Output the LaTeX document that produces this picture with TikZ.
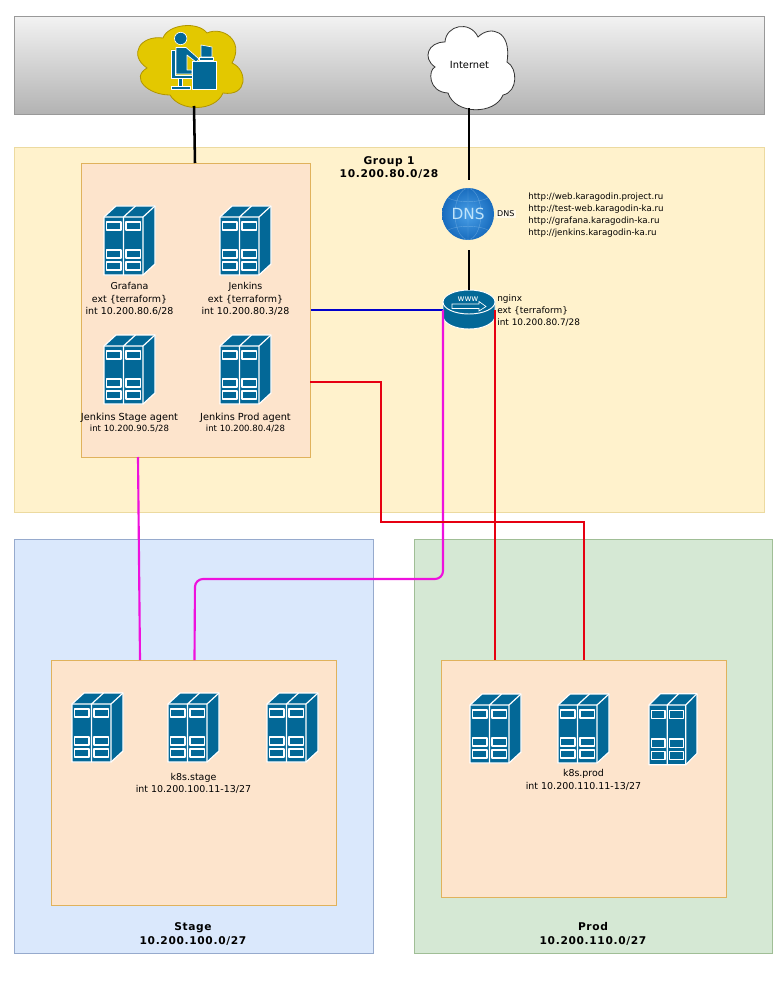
\documentclass[tikz,border=0pt]{standalone}
\usepackage{fontspec}
\setmainfont{DejaVu Sans}
\usepackage{xcolor}
\usetikzlibrary{positioning}

\definecolor{srvblue}{HTML}{036897}
\definecolor{linkmag}{HTML}{EE11DD}
\definecolor{linkred}{HTML}{E60012}
\definecolor{linkblue}{HTML}{0000CC}
\definecolor{grpfill}{HTML}{FFF2CC}
\definecolor{grpline}{HTML}{ECDAA0}
\definecolor{stagefill}{HTML}{DAE8FC}
\definecolor{stageline}{HTML}{96AACD}
\definecolor{prodfill}{HTML}{D5E8D4}
\definecolor{prodline}{HTML}{A0BE96}
\definecolor{boxfill}{HTML}{FDE4CC}
\definecolor{boxline}{HTML}{E0B25C}
\definecolor{usrfill}{HTML}{E3C800}
\definecolor{usrline}{HTML}{B09500}
\definecolor{dnsin}{HTML}{4AA0E8}
\definecolor{dnsout}{HTML}{186CBE}
\definecolor{dnstext}{HTML}{BFE3FA}

\newcommand{\iptxt}{\fontsize{6.4}{7.8}\selectfont}

\tikzset{
	zone/.style={draw, anchor=north west, inner sep=0pt, line width=0.7pt},
	inner box/.style={zone, fill=boxfill, draw=boxline},
	lbl/.style={align=center, inner sep=0pt, font=\fontsize{7.1}{9.4}\selectfont},
	lbl tight/.style={lbl, font=\fontsize{7.3}{7.8}\selectfont},
	title/.style={align=center, inner sep=0pt, font=\fontsize{8}{10.4}\selectfont\bfseries\addfontfeature{LetterSpace=6}},
	link/.style={line width=1.6pt},
	wire/.style={line width=1.9pt, black},
	srv/.pic={
		\begin{scope}[draw=white, fill=srvblue, line width=0.9pt, line join=round]
			\filldraw (0,0) -- (12,-11) -- (51,-11) -- (51,47) -- (39,58) -- (0,58) -- cycle;
			\draw (0,0) -- (39,0) -- (51,-11) (39,0) -- (39,58) (19.5,0) -- (19.5,58) (19.5,0) -- (31.5,-11);
			\foreach \bx in {2.5,22} \foreach \by in {5,33,45}
				\draw (\bx,\by) rectangle ++(14.5,8);
		\end{scope}
		\coordinate (-lbl) at (25.5,58);
	},
}

\begin{document}
\begin{tikzpicture}[x=0.75pt, y=-0.75pt]
	\useasboundingbox (0,0) rectangle (780,984);

	% zone
	\node[zone, top color=white!95!black, bottom color=black!30, draw=black!40, minimum width=750*0.75pt, minimum height=98*0.75pt] (top) at (14,16) {};
	\node[zone, fill=grpfill, draw=grpline, minimum width=750*0.75pt, minimum height=365*0.75pt] (grp) at (14,147) {};
	\node[zone, fill=stagefill, draw=stageline, minimum width=359*0.75pt, minimum height=414*0.75pt] (stage) at (14,539) {};
	\node[zone, fill=prodfill, draw=prodline, minimum width=358*0.75pt, minimum height=414*0.75pt] (prod) at (414,539) {};
	\node[inner box, minimum width=229*0.75pt, minimum height=294*0.75pt] (mgmt) at (81,163) {};
	\node[inner box, minimum width=285*0.75pt, minimum height=245*0.75pt] (k8stage) at (51,660) {};
	\node[inner box, minimum width=285*0.75pt, minimum height=237*0.75pt] (k8prod) at (441,660) {};

	% titoli
	\node[title] (grptxt) at (389,167.5) {Group 1\\10.200.80.0/28};
	\node[title] (stagetxt) at (193,934) {Stage\\10.200.100.0/27};
	\node[title] (prodtxt) at (593,934) {Prod\\10.200.110.0/27};

	% nuvole
	\filldraw[draw=usrline, fill=usrfill, line width=0.6pt] (163,38) .. controls (168,24) and (198,21) .. (207,33)
		.. controls (222,26) and (245,40) .. (232,63)
		.. controls (248,70) and (248,97) .. (223,93)
		.. controls (215,112) and (180,112) .. (170,95)
		.. controls (148,95) and (130,78) .. (147,68)
		.. controls (128,55) and (140,35) .. (163,38) -- cycle;
	\filldraw[draw=black!80, fill=white, line width=0.6pt] (445,42) .. controls (446,25) and (470,20) .. (478,37)
		.. controls (490,25) and (512,30) .. (507,62)
		.. controls (518,68) and (518,92) .. (503,95)
		.. controls (495,115) and (455,115) .. (448,93)
		.. controls (428,92) and (428,70) .. (435,67)
		.. controls (422,58) and (428,42) .. (445,42) -- cycle;
	\node[inner sep=0pt, minimum width=108*0.75pt, minimum height=82*0.75pt] (usr) at (191,66) {};
	\node[inner sep=0pt, font=\fontsize{7.4}{8}\selectfont] (net) at (469.5,65) {Internet};
	\coordinate (usrbot) at (194,106);
	\coordinate (netbot) at (469,108);

	% operatore
	\begin{scope}[draw=white, fill=srvblue, line width=0.5pt, line join=round]
		\filldraw (180.7,38.5) circle (6.2);
		\filldraw (176,47.5) -- (186,47.5) -- (199,59) -- (196,62) -- (187,55) -- (187,70) -- (192,70) -- (192,74) -- (176,74) -- cycle;
		\filldraw (171,50) -- (175,50) -- (175,75) -- (192,75) -- (192,78) -- (171,78) -- cycle;
		\filldraw (178.5,78) rectangle (182,86);
		\filldraw (171,86) rectangle (190,89);
		\filldraw (192,61) rectangle (216,89);
		\filldraw (201,45) -- (212,47) -- (212,57) -- (201,57) -- cycle;
		\filldraw (199,57.5) rectangle (213,60.5);
	\end{scope}

	% dns
	\node[circle, inner color=dnsin, outer color=dnsout, inner sep=0pt, minimum size=52*0.75pt] (dns) at (468,214) {};
	\draw[dnstext, opacity=0.35, line width=0.3pt] (468,214) ellipse (13 and 25.5) (468,188.5) -- (468,239.5)
		(448,198) .. controls (458,203) and (478,203) .. (488,198)
		(448,230) .. controls (458,225) and (478,225) .. (488,230);
	\node[text=dnstext, inner sep=0pt, font=\fontsize{11.5}{12}\selectfont] (dnslogo) at (468,214) {DNS};
	\node[fill=white, fill opacity=0.6, text opacity=1, inner sep=1pt, font=\fontsize{6}{8}\selectfont, right=1pt of dns] (dnstxt) {DNS};
	\node[lbl, align=left, font=\fontsize{6.5}{9}\selectfont, anchor=west] (urls) at (528,215) {http://web.karagodin.project.ru\\http://test-web.karagodin-ka.ru\\http://grafana.karagodin-ka.ru\\http://jenkins.karagodin-ka.ru};

	% router
	\node[inner sep=0pt, minimum width=52*0.75pt, minimum height=40*0.75pt] (www) at (469,310) {};
	\begin{scope}[draw=white, fill=srvblue, line width=0.7pt]
		\filldraw (443,302) -- (443,316) arc[start angle=180, end angle=360, x radius=26, y radius=-13] -- (495,302) -- cycle;
		\filldraw (469,302) ellipse (26 and 12);
		\draw[line width=0.5pt, fill=none] (452,304) -- (479,304) -- (479,301.5) -- (486,306.5) -- (479,311) -- (479,308.5) -- (452,308.5) -- cycle;
	\end{scope}
	\node[text=white, inner sep=0pt, font=\fontsize{6.4}{8}\selectfont] (wwwtxt) at (468,299.5) {www};
	\node[lbl, align=left, font=\fontsize{6.7}{8.7}\selectfont, anchor=west] (nginxtxt) at (497,310.5) {nginx\\ext \{terraform\}\\int 10.200.80.7/28};

	% server
	\pic (graf) at (104,217) {srv};
	\pic (jenk) at (220,217) {srv};
	\pic (jstage) at (104,346) {srv};
	\pic (jprod) at (220,346) {srv};
	\pic (sta) at (72,704) {srv};
	\pic (stb) at (168,704) {srv};
	\pic (stc) at (267,704) {srv};
	\pic (pra) at (470,705) {srv};
	\pic (prb) at (558,705) {srv};
	\pic[xscale=0.94, yscale=1.03] (prc) at (649,705) {srv};

	\node[lbl, below=5.5pt of graf-lbl] (graftxt) {Grafana\\ext \{terraform\}\\int 10.200.80.6/28};
	\node[lbl, below=5.5pt of jenk-lbl] (jenktxt) {Jenkins\\ext \{terraform\}\\int 10.200.80.3/28};
	\node[lbl tight, below=7pt of jstage-lbl] (jstagetxt) {Jenkins Stage agent\\\iptxt int 10.200.90.5/28};
	\node[lbl tight, below=7pt of jprod-lbl] (jprodtxt) {Jenkins Prod agent\\\iptxt int 10.200.80.4/28};
	\node[lbl, below=8pt of stb-lbl] (sttxt) {k8s.stage\\int 10.200.100.11-13/27};
	\node[lbl, below=4.5pt of prb-lbl] (prtxt) {k8s.prod\\int 10.200.110.11-13/27};

	% estremi liberi
	\coordinate (mgmtblue) at (mgmt.east |- www.west);
	\coordinate (mgmtred) at (310,382);
	\coordinate (mgmtmag) at (138,457);
	\coordinate (mgmttop) at (195,163);
	\coordinate (stmaga) at (140,660);
	\coordinate (stmagb) at (194.5,660);
	\coordinate (wwwmag) at (443,310);
	\coordinate (wwwred) at (495,310);
	\coordinate (prreda) at (495,660);
	\coordinate (prredb) at (584,660);
	\coordinate (dnstop) at (469,180);
	\coordinate (dnsbot) at (469,250);

	% collegamenti
	\draw[wire] (usrbot) -- (mgmttop);
	\draw[wire] (netbot) -- (dnstop);
	\draw[wire] (dnsbot) -- (www.north);
	\draw[link, linkblue] (mgmtblue) -- (www.west);
	\draw[link, linkmag] (mgmtmag) -- (stmaga);
	\draw[link, linkmag, rounded corners=6pt] (stmagb) -- (195,579) -- (443,579) -- (wwwmag);
	\draw[link, linkred] (mgmtred) -- (381,382) -- (381,522) -- (584,522) -- (prredb);
	\draw[link, linkred] (wwwred) -- (prreda);
\end{tikzpicture}
\end{document}
